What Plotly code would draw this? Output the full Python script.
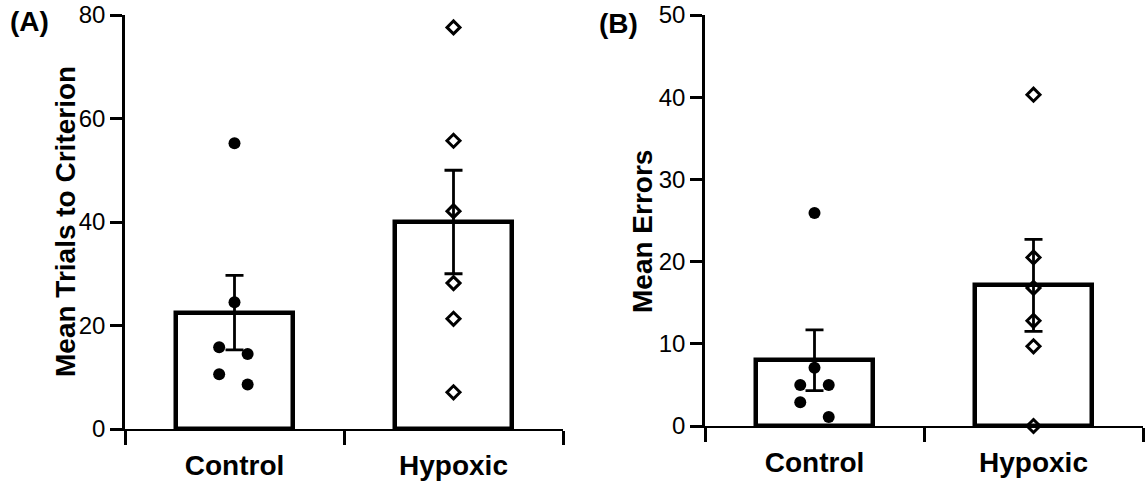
import plotly.graph_objects as go

# ---------------- data ----------------
categories = ["Control", "Hypoxic"]

# Panel A: trials to criterion
trials_mean = [22.5, 40.0]
trials_sem = [7.2, 10.0]
trials_control = [55.2, 24.5, 15.8, 14.5, 10.6, 8.6]
trials_hypoxic = [77.6, 55.7, 42.1, 28.2, 21.3, 7.1]

# Panel B: errors
errors_mean = [8.0, 17.1]
errors_sem = [3.7, 5.6]
errors_control = [25.9, 7.1, 5.0, 5.0, 2.9, 1.1]
errors_hypoxic = [40.3, 20.5, 16.8, 12.8, 9.7, 0.0]

y_ticks_a = [0, 20, 40, 60, 80]
y_ticks_b = [0, 10, 20, 30, 40, 50]

# horizontal scatter of individual animals within a category (category units)
jitter_a_control = [0.0, 0.0, -0.07, 0.06, -0.07, 0.06]
jitter_a_hypoxic = [0.0, 0.0, 0.0, 0.0, 0.0, 0.0]
jitter_b_control = [0.0, 0.0, -0.065, 0.065, -0.065, 0.065]
jitter_b_hypoxic = [0.0, 0.0, 0.0, 0.0, 0.0, 0.0]

# ---------------- figure ----------------
W, H = 1148, 484
FONT = "Liberation Sans, Arial, Helvetica, sans-serif"
cat_x = [i + 0.5 for i in range(len(categories))]

fig = go.Figure()


def add_panel(fig, xa, ya, means, sems, ctrl, hyp, jc, jh):
    fig.add_trace(go.Bar(
        x=cat_x, y=means, width=0.53,
        marker=dict(color="white", line=dict(color="black", width=4.5)),
        error_y=dict(type="data", array=sems, visible=True, color="black",
                     thickness=2.8, width=9),
        xaxis=xa, yaxis=ya, showlegend=False, cliponaxis=False,
    ))
    fig.add_trace(go.Scatter(
        x=[cat_x[0] + j for j in jc], y=ctrl, mode="markers",
        marker=dict(symbol="circle", size=12, color="black"),
        xaxis=xa, yaxis=ya, showlegend=False, cliponaxis=False,
    ))
    fig.add_trace(go.Scatter(
        x=[cat_x[1] + j for j in jh], y=hyp, mode="markers",
        marker=dict(symbol="diamond-open", size=10, color="black",
                    line=dict(color="black", width=3)),
        xaxis=xa, yaxis=ya, showlegend=False, cliponaxis=False,
    ))


add_panel(fig, "x", "y", trials_mean, trials_sem, trials_control,
          trials_hypoxic, jitter_a_control, jitter_a_hypoxic)
add_panel(fig, "x2", "y2", errors_mean, errors_sem, errors_control,
          errors_hypoxic, jitter_b_control, jitter_b_hypoxic)


def xaxis_cfg(domain, anchor):
    return dict(
        domain=domain, anchor=anchor, range=[0, len(categories)],
        tickmode="array", tickvals=cat_x, ticktext=categories,
        ticks="outside", ticklen=10, tickwidth=2.5, tickcolor="rgba(0,0,0,0)",
        minor=dict(tickmode="array", tickvals=list(range(len(categories) + 1)),
                   ticks="outside", ticklen=14, tickwidth=2.5, tickcolor="black"),
        tickfont=dict(family=FONT, size=28, color="black", weight="bold"),
        ticklabelstandoff=0, automargin=False,
        showline=True, linecolor="black", linewidth=2,
        showgrid=False, zeroline=False, fixedrange=True,
    )


def yaxis_cfg(domain, anchor, ticks):
    return dict(
        domain=domain, anchor=anchor, range=[ticks[0], ticks[-1]],
        tickmode="array", tickvals=ticks,
        ticks="outside", ticklen=12, tickwidth=2.5, tickcolor="black",
        tickfont=dict(family=FONT, size=24, color="black"),
        ticklabelstandoff=0, automargin=False,
        showline=True, linecolor="black", linewidth=2.5,
        showgrid=False, zeroline=False, fixedrange=True,
    )


fig.update_layout(
    width=W, height=H,
    margin=dict(l=0, r=0, t=0, b=0, autoexpand=False),
    paper_bgcolor="white", plot_bgcolor="white",
    font=dict(family=FONT, color="black"),
    bargap=0,
    xaxis=xaxis_cfg([125 / W, 563 / W], "y"),
    yaxis=yaxis_cfg([(H - 429) / H, (H - 15) / H], "x", y_ticks_a),
    xaxis2=xaxis_cfg([705 / W, 1143 / W], "y2"),
    yaxis2=yaxis_cfg([(H - 426) / H, (H - 15) / H], "x2", y_ticks_b),
    annotations=[
        dict(text="(A)", x=8 / W, y=(H - 22) / H, xref="paper", yref="paper",
             xanchor="left", yanchor="middle", showarrow=False,
             font=dict(family=FONT, size=28, color="black", weight="bold")),
        dict(text="(B)", x=597 / W, y=(H - 23) / H, xref="paper", yref="paper",
             xanchor="left", yanchor="middle", showarrow=False,
             font=dict(family=FONT, size=28, color="black", weight="bold")),
        dict(text="Mean Trials to Criterion", x=65 / W, y=(H - 222) / H,
             xref="paper", yref="paper", xanchor="center", yanchor="middle",
             textangle=-90, showarrow=False,
             font=dict(family=FONT, size=28, color="black", weight="bold")),
        dict(text="Mean Errors", x=643 / W, y=(H - 232) / H,
             xref="paper", yref="paper", xanchor="center", yanchor="middle",
             textangle=-90, showarrow=False,
             font=dict(family=FONT, size=28, color="black", weight="bold")),
    ],
)

fig.write_html(
    "out.html",
    config={"displayModeBar": False},
    post_script="document.body.style.margin='0';document.body.style.overflow='hidden';",
)
